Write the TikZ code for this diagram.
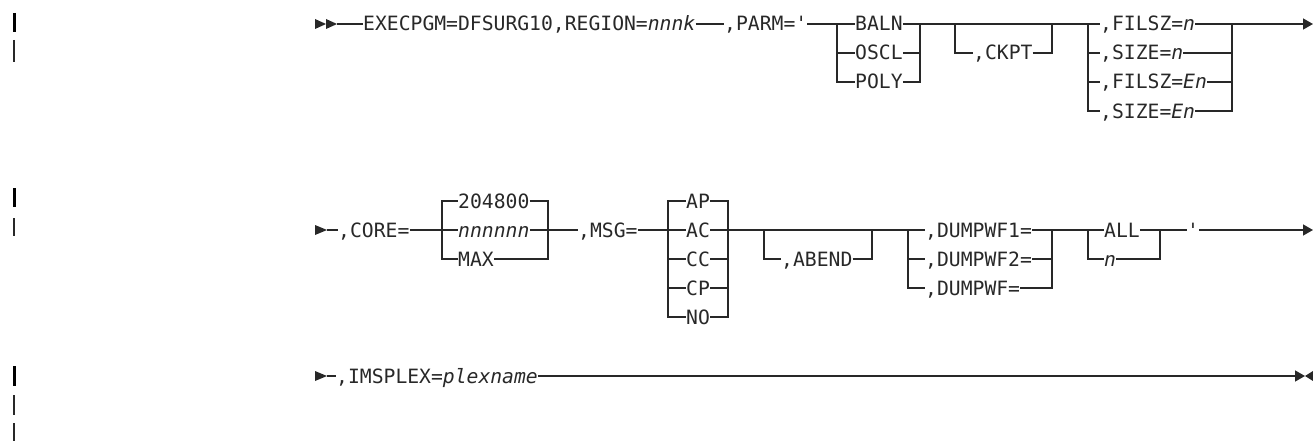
\documentclass[tikz,border=0pt]{standalone}
\usepackage{fontspec}
\newfontfamily\synfont{DejaVu Sans Mono}
\usepackage{tikz}
\usetikzlibrary{arrows.meta}
\definecolor{syngray}{RGB}{40,40,40}

\tikzset{
	syn/.style={font=\synfont\fontsize{19.7pt}{24pt}\selectfont, text=syngray,
		inner sep=0pt, anchor=west, text height=14pt, text depth=0pt},
	rail/.style={draw=syngray, line width=1.3pt},
	railend/.style={rail, -{Triangle[length=10pt,width=11pt]}},
	thickbar/.style={draw=black, line width=3pt},
	thinbar/.style={draw=syngray, line width=1.4pt}
}

\begin{document}
\begin{tikzpicture}[x=1pt,y=-1pt]
	\useasboundingbox (0,0) rectangle (1313,441);
	
	% change bars
	\draw[thickbar] (14,13) -- (14,32);
	\draw[thinbar] (14,40) -- (14,62);
	\draw[thickbar] (14,188) -- (14,207);
	\draw[thinbar] (14,218) -- (14,236);
	\draw[thickbar] (14,366) -- (14,386);
	\draw[thinbar] (14,395) -- (14,415);
	\draw[thinbar] (14,423) -- (14,441);
	
	% first line
	\fill[syngray] (315,19) -- (326,24) -- (315,29) -- cycle;
	\fill[syngray] (326,19) -- (337,24) -- (326,29) -- cycle;
	\coordinate (s1) at (337,24);
	\node[syn] (exec) at (363,24) {EXECPGM=DFSURG10,REGION=\textit{nnnk}};
	\node[syn] (parm) at (724,24) {,PARM='};
	\draw[rail] (s1) -- (exec.west);
	\draw[rail] (exec.east) -- (parm.west);
	
	\coordinate (g1l) at (837,24);
	\coordinate (g1r) at (920,24);
	\node[syn] (baln) at (855,24) {BALN};
	\node[syn] (oscl) at (855,53) {OSCL};
	\node[syn] (poly) at (855,82) {POLY};
	\draw[rail] (parm.east) -- (baln.west);
	\draw[rail] (g1l) |- (oscl.west);
	\draw[rail] (g1l) |- (poly.west);
	\draw[rail] (baln.east) -- (g1r);
	\draw[rail] (oscl.east) -| (g1r);
	\draw[rail] (poly.east) -| (g1r);
	
	\coordinate (g2l) at (955,24);
	\coordinate (g2r) at (1052,24);
	\node[syn] (ckpt) at (973,53) {,CKPT};
	\draw[rail] (g1r) -- (g2l) -- (g2r);
	\draw[rail] (g2l) |- (ckpt.west);
	\draw[rail] (ckpt.east) -| (g2r);
	
	\coordinate (g3l) at (1088,24);
	\coordinate (g3r) at (1232,24);
	\node[syn] (filsz) at (1100,24) {,FILSZ=\textit{n}};
	\node[syn] (size) at (1100,53) {,SIZE=\textit{n}};
	\node[syn] (filsze) at (1100,82) {,FILSZ=\textit{En}};
	\node[syn] (sizee) at (1100,111) {,SIZE=\textit{En}};
	\draw[rail] (g2r) -- (filsz.west);
	\draw[rail] (g3l) |- (size.west);
	\draw[rail] (g3l) |- (filsze.west);
	\draw[rail] (g3l) |- (sizee.west);
	\draw[rail] (filsz.east) -- (g3r);
	\draw[rail] (size.east) -| (g3r);
	\draw[rail] (filsze.east) -| (g3r);
	\draw[rail] (sizee.east) -| (g3r);
	\coordinate (e1) at (1313,24);
	\draw[railend] (g3r) -- (e1);
	
	% second line
	\fill[syngray] (315,225) -- (327,230) -- (315,235) -- cycle;
	\coordinate (s2) at (327,230);
	\node[syn] (core) at (338,230) {,CORE=};
	\draw[rail] (s2) -- (core.west);
	
	\coordinate (c1l) at (442,230);
	\coordinate (c1r) at (548,230);
	\node[syn] (dflt) at (458,201) {204800};
	\node[syn] (nnn) at (458,230) {\textit{nnnnnn}};
	\node[syn] (cmax) at (458,259) {MAX};
	\draw[rail] (core.east) -- (nnn.west);
	\draw[rail] (c1l) |- (dflt.west);
	\draw[rail] (c1l) |- (cmax.west);
	\draw[rail] (nnn.east) -- (c1r);
	\draw[rail] (dflt.east) -| (c1r);
	\draw[rail] (cmax.east) -| (c1r);
	
	\node[syn] (msg) at (578,230) {,MSG=};
	\draw[rail] (c1r) -- (msg.west);
	
	\coordinate (m1l) at (668,230);
	\coordinate (m1r) at (728,230);
	\node[syn] (ap) at (686,201) {AP};
	\node[syn] (ac) at (686,230) {AC};
	\node[syn] (cc) at (686,259) {CC};
	\node[syn] (cp) at (686,288) {CP};
	\node[syn] (no) at (686,317) {NO};
	\draw[rail] (msg.east) -- (ac.west);
	\draw[rail] (m1l) |- (ap.west);
	\draw[rail] (m1l) |- (cc.west);
	\draw[rail] (m1l) |- (cp.west);
	\draw[rail] (m1l) |- (no.west);
	\draw[rail] (ac.east) -- (m1r);
	\draw[rail] (ap.east) -| (m1r);
	\draw[rail] (cc.east) -| (m1r);
	\draw[rail] (cp.east) -| (m1r);
	\draw[rail] (no.east) -| (m1r);
	
	\coordinate (a1l) at (764,230);
	\coordinate (a1r) at (872,230);
	\node[syn] (abend) at (781,259) {,ABEND};
	\draw[rail] (m1r) -- (a1l) -- (a1r);
	\draw[rail] (a1l) |- (abend.west);
	\draw[rail] (abend.east) -| (a1r);
	
	\coordinate (d1l) at (908,230);
	\coordinate (d1r) at (1052,230);
	\node[syn] (dwfa) at (925,230) {,DUMPWF1=};
	\node[syn] (dwfb) at (925,259) {,DUMPWF2=};
	\node[syn] (dwf) at (925,288) {,DUMPWF=};
	\draw[rail] (a1r) -- (dwfa.west);
	\draw[rail] (d1l) |- (dwfb.west);
	\draw[rail] (d1l) |- (dwf.west);
	\draw[rail] (dwfa.east) -- (d1r);
	\draw[rail] (dwfb.east) -| (d1r);
	\draw[rail] (dwf.east) -| (d1r);
	
	\coordinate (l1l) at (1088,230);
	\coordinate (l1r) at (1160,230);
	\node[syn] (all) at (1104,230) {ALL};
	\node[syn] (nval) at (1104,259) {\textit{n}};
	\draw[rail] (d1r) -- (all.west);
	\draw[rail] (l1l) |- (nval.west);
	\draw[rail] (all.east) -- (l1r);
	\draw[rail] (nval.east) -| (l1r);
	
	\node[syn] (quote) at (1187,230) {'};
	\coordinate (e2) at (1313,230);
	\draw[rail] (l1r) -- (quote.west);
	\draw[railend] (quote.east) -- (e2);
	
	% third line
	\fill[syngray] (315,371) -- (327,376) -- (315,381) -- cycle;
	\coordinate (s3) at (327,376);
	\node[syn] (plex) at (336,376) {,IMSPLEX=\textit{plexname}};
	\draw[rail] (s3) -- (plex.west);
	\coordinate (e3) at (1305,376);
	\draw[railend] (plex.east) -- (e3);
	\fill[syngray] (1313,371) -- (1305,376) -- (1313,381) -- cycle;
\end{tikzpicture}
\end{document}
